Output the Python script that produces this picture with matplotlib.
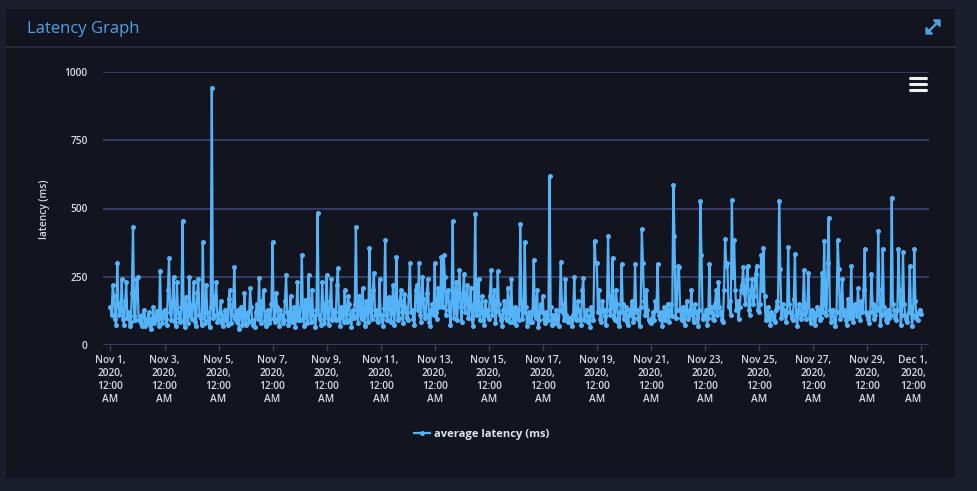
import matplotlib
matplotlib.use("Agg")
import matplotlib.pyplot as plt
from matplotlib.patches import Rectangle, Polygon
from matplotlib.lines import Line2D
from matplotlib.transforms import ScaledTranslation
import pandas as pd

# ---------------- data (hourly average latency, ms) ----------------
start_time = "2020-11-01 00:00"
sample_freq = "1h"
latency_ms = [
    140, 110, 220, 180, 95, 75, 301, 150, 110, 130, 240, 95, 75, 160, 230, 100, 120, 70, 85, 190, 433, 105, 90, 240,   # Nov 1
    250, 90, 105, 80, 70, 115, 130, 70, 85, 100, 120, 75, 60, 95, 140, 80, 95, 125, 110, 70, 272, 100, 80, 120,        # Nov 2
    130, 95, 75, 200, 318, 120, 90, 160, 250, 85, 70, 230, 120, 100, 85, 140, 455, 90, 65, 175, 110, 80, 250, 110,     # Nov 3
    95, 150, 230, 85, 70, 190, 240, 110, 100, 75, 377, 120, 80, 220, 120, 90, 65, 140, 940, 100, 110, 180, 230, 85,    # Nov 4
    90, 120, 160, 80, 70, 110, 130, 90, 75, 170, 200, 80, 110, 150, 285, 95, 85, 130, 60, 115, 140, 75, 100, 190,      # Nov 5
    75, 110, 120, 85, 210, 140, 90, 75, 65, 120, 150, 95, 245, 110, 80, 160, 200, 90, 70, 125, 130, 80, 95, 150,       # Nov 6
    377, 100, 85, 190, 140, 95, 70, 130, 110, 80, 90, 160, 255, 120, 75, 95, 180, 85, 100, 140, 65, 110, 230, 90,      # Nov 7
    90, 140, 328, 100, 70, 165, 120, 80, 255, 120, 85, 200, 110, 90, 65, 130, 485, 110, 95, 75, 230, 150, 80, 120,     # Nov 8
    255, 100, 75, 160, 240, 90, 130, 120, 90, 220, 282, 100, 70, 140, 110, 85, 200, 115, 85, 180, 150, 95, 65, 130,    # Nov 9
    100, 150, 431, 110, 80, 180, 140, 95, 210, 120, 70, 160, 120, 85, 355, 130, 95, 200, 265, 110, 130, 90, 85, 240,   # Nov 10
    110, 95, 70, 135, 385, 110, 90, 175, 160, 85, 120, 220, 75, 140, 323, 90, 100, 160, 200, 120, 80, 185, 140, 100,   # Nov 11
    90, 180, 300, 120, 130, 95, 75, 200, 220, 130, 300, 110, 85, 250, 170, 100, 110, 190, 240, 85, 70, 130, 150, 110,  # Nov 12
    300, 120, 95, 210, 140, 170, 323, 140, 330, 250, 110, 190, 200, 130, 75, 160, 453, 100, 120, 230, 90, 180, 275, 140,  # Nov 13
    85, 190, 260, 120, 160, 220, 100, 140, 210, 95, 70, 150, 480, 110, 130, 240, 90, 120, 180, 90, 75, 160, 110, 130,  # Nov 14
    95, 180, 275, 110, 140, 200, 80, 125, 270, 150, 110, 90, 70, 130, 160, 100, 90, 210, 120, 85, 240, 110, 85, 140,   # Nov 15
    75, 110, 130, 90, 442, 160, 95, 120, 378, 140, 70, 100, 120, 85, 85, 130, 313, 110, 100, 200, 65, 90, 150, 120,    # Nov 16
    180, 95, 80, 120, 110, 90, 619, 140, 75, 110, 95, 80, 130, 100, 70, 130, 305, 150, 120, 90, 240, 110, 85, 100,     # Nov 17
    100, 85, 70, 110, 250, 95, 90, 160, 130, 100, 75, 200, 245, 90, 110, 130, 85, 105, 65, 140, 120, 90, 382, 300,     # Nov 18
    300, 120, 200, 95, 85, 160, 130, 105, 75, 130, 400, 180, 110, 140, 320, 100, 90, 200, 150, 85, 70, 120, 296, 150,  # Nov 19
    95, 110, 140, 85, 75, 130, 110, 160, 85, 100, 296, 120, 130, 95, 70, 140, 424, 300, 160, 110, 200, 130, 90, 85,    # Nov 20
    80, 100, 120, 90, 160, 130, 297, 110, 95, 120, 70, 100, 140, 90, 110, 150, 85, 120, 150, 105, 586, 400, 100, 130,  # Nov 21
    290, 285, 130, 100, 90, 140, 75, 120, 160, 95, 110, 130, 200, 110, 85, 150, 120, 100, 70, 130, 527, 330, 95, 110,  # Nov 22
    110, 130, 75, 100, 295, 120, 140, 95, 90, 150, 200, 110, 230, 140, 120, 90, 85, 200, 387, 290, 300, 140, 160, 110, # Nov 23
    531, 250, 385, 200, 130, 160, 95, 140, 200, 220, 285, 190, 150, 240, 290, 130, 110, 200, 240, 150, 180, 260, 290, 130,  # Nov 24
    120, 150, 330, 200, 355, 180, 90, 110, 140, 95, 75, 120, 110, 90, 85, 130, 160, 140, 529, 280, 100, 150, 130, 110, # Nov 25
    85, 120, 360, 150, 120, 100, 90, 170, 335, 110, 70, 130, 150, 95, 110, 140, 275, 120, 95, 150, 265, 100, 80, 130,  # Nov 26
    120, 95, 75, 110, 140, 130, 90, 100, 265, 120, 381, 150, 110, 300, 466, 130, 85, 110, 130, 90, 70, 120, 385, 280,  # Nov 27
    95, 130, 240, 110, 130, 90, 75, 170, 110, 100, 290, 120, 85, 150, 140, 105, 210, 130, 90, 160, 120, 200, 351, 120, # Nov 28
    110, 95, 80, 120, 260, 150, 95, 110, 140, 130, 419, 200, 75, 110, 350, 140, 120, 90, 85, 130, 100, 110, 540, 150,  # Nov 29
    130, 100, 90, 130, 350, 200, 75, 110, 340, 150, 110, 95, 85, 120, 290, 140, 70, 110, 350, 160, 100, 90, 120, 130,  # Nov 30
    115,                                                                                                               # Dec 1
]
y_ticks = [0, 250, 500, 750, 1000]
tick_start, tick_end, tick_step = "2020-11-01", "2020-12-01", "2D"
series_name = "average latency (ms)"
title_text = "Latency Graph"
y_label = "latency (ms)"

# ---------------- figure ----------------
W, H = 977, 491
fig = plt.figure(figsize=(W / 100, H / 100), dpi=100)
fig.patch.set_facecolor("#1b1e2d")
FONT = ["Open Sans", "DejaVu Sans"]
ICON = "#4aa3e8"


def fx(px):
    return px / W


def fy(py):
    return 1 - py / H


# panel
fig.add_artist(Rectangle((fx(6), fy(478)), fx(955) - fx(6), fy(9) - fy(478),
                         transform=fig.transFigure, facecolor="#12141f",
                         edgecolor="none", zorder=-5))
# header separator
fig.add_artist(Line2D([fx(6), fx(955)], [fy(47), fy(47)], transform=fig.transFigure,
                      color="#262a3b", lw=1.5, zorder=-4))
fig.text(fx(27), fy(29), title_text, color=ICON, fontsize=12,
         family=FONT, va="center", ha="left")
# expand icon (diagonal double arrow)
fig.add_artist(Line2D([fx(929), fx(937)], [fy(31), fy(23)], transform=fig.transFigure,
                      color=ICON, lw=1.7))
fig.add_artist(Polygon([(fx(940), fy(20)), (fx(933.5), fy(20)), (fx(940), fy(26.5))],
                       closed=True, transform=fig.transFigure, color=ICON))
fig.add_artist(Polygon([(fx(926), fy(34)), (fx(932.5), fy(34)), (fx(926), fy(27.5))],
                       closed=True, transform=fig.transFigure, color=ICON))
# hamburger menu
for py in (78, 84, 90):
    fig.add_artist(Line2D([fx(910), fx(926)], [fy(py), fy(py)], transform=fig.transFigure,
                          color="#f0f0f0", lw=2.2, solid_capstyle="round"))

# axes
ax = fig.add_axes([fx(103), fy(345), fx(929) - fx(103), fy(72) - fy(345)])
ax.set_zorder(2)
ax.set_facecolor("none")
times = pd.date_range(start_time, periods=len(latency_ms), freq=sample_freq)
t0 = pd.Timestamp(tick_start)
ax.plot(times, latency_ms, color="#55b4f8", lw=1.6, marker="o", markersize=3.6,
        markeredgewidth=0, zorder=3, label=series_name)

ax.set_ylim(0, 1000)
ax.set_xlim(t0 - pd.Timedelta(days=0.277), t0 + pd.Timedelta(days=30.296))
ax.set_yticks(y_ticks)
ax.set_yticklabels([str(v) for v in y_ticks])
ax.grid(axis="y", color="#404a7a", lw=1.1)
ax.set_axisbelow(True)
for s in ax.spines.values():
    s.set_visible(False)

ticks = pd.date_range(tick_start, tick_end, freq=tick_step)
ax.set_xticks(ticks)
ax.set_xticklabels([f"{d:%b} {d.day},\n{d.year},\n12:00\nAM" for d in ticks],
                   linespacing=1.25)
ax.tick_params(axis="x", colors="#3a3f58", length=4.5, width=1, pad=3,
               labelcolor="#d8d9e2", labelsize=7.3)
ax.tick_params(axis="y", length=0, pad=11, labelcolor="#d8d9e2", labelsize=7.3)
for lbl in ax.get_xticklabels() + ax.get_yticklabels():
    lbl.set_family(FONT)
    lbl.set_fontweight("semibold")
last = ax.get_xticklabels()[-1]
last.set_transform(last.get_transform() + ScaledTranslation(-8 / 100, 0, fig.dpi_scale_trans))

fig.text(fx(45), fy(209), y_label, rotation=90, color="#d8d9e2", fontsize=7.3,
         family=FONT, va="center", ha="center", fontweight="semibold")

fig.legend(loc="center", bbox_to_anchor=(fx(482), fy(434)), frameon=False,
           prop={"family": FONT, "size": 8, "weight": "bold"},
           handlelength=1.4, handletextpad=0.4, labelcolor="#e2e3ea")

fig.savefig("out.png", dpi=100, facecolor=fig.get_facecolor())
